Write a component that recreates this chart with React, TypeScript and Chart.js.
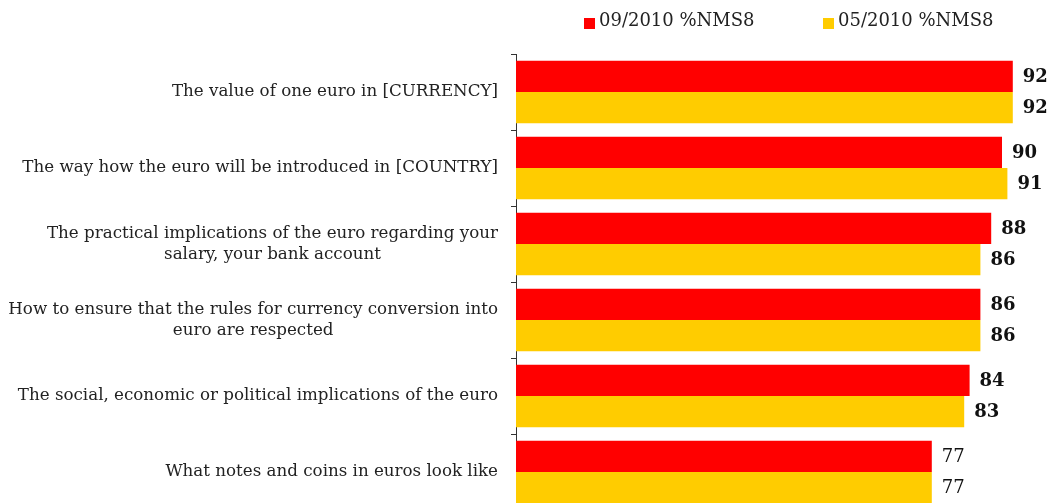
import React, { useEffect, useRef } from "react";
import { Chart, registerables } from "chart.js";

Chart.register(...registerables);

const categories: string[][] = [
  ["The value of one euro in [CURRENCY]"],
  ["The way how the euro will be introduced in [COUNTRY]"],
  ["The practical implications of the euro regarding your", "salary, your bank account"],
  ["How to ensure that the rules for currency conversion into", "euro are respected"],
  ["The social, economic or political implications of the euro"],
  ["What notes and coins in euros look like"],
];
const series1Label = "09/2010 %NMS8";
const series2Label = "05/2010 %NMS8";
const series1 = [92, 90, 88, 86, 84, 77];
const series2 = [92, 91, 86, 86, 83, 77];
const boldValue = [true, true, true, true, true, false];

const RED = "#FF0000";
const YELLOW = "#FFCC00";
const FONT = "'DejaVu Serif', Georgia, serif";

const labelPlugin = {
  id: "customLabels",
  afterDatasetsDraw(chart: any) {
    const ctx = chart.ctx as CanvasRenderingContext2D;
    const yScale = chart.scales.y;
    ctx.save();
    ctx.font = `16.7px ${FONT}`;
    ctx.fillStyle = "#222";
    ctx.textBaseline = "middle";
    ctx.textAlign = "center";
    const lineH = 21.5;
    categories.forEach((lines, i) => {
      const yc = yScale.getPixelForValue(i);
      const w = Math.max(...lines.map((l) => ctx.measureText(l).width));
      const right = chart.chartArea.left - 18;
      const cx = right - w / 2;
      lines.forEach((l, j) =>
        ctx.fillText(l, cx, yc + (j - (lines.length - 1) / 2) * lineH)
      );
    });
    chart.data.datasets.forEach((ds: any, di: number) => {
      const meta = chart.getDatasetMeta(di);
      meta.data.forEach((bar: any, i: number) => {
        ctx.font = `${boldValue[i] ? "bold " : ""}18px ${FONT}`;
        ctx.textAlign = "left";
        ctx.fillStyle = "#111";
        ctx.fillText(String(ds.data[i]), bar.x + 10, bar.y + 1);
      });
    });
    ctx.restore();
  },
};

export default function App() {
  const ref = useRef<HTMLCanvasElement>(null);
  useEffect(() => {
    if (!ref.current) return;
    const chart = new Chart(ref.current, {
      type: "bar",
      data: {
        labels: categories.map((c) => c.join(" ")),
        datasets: [
          { label: series1Label, data: series1, backgroundColor: RED, barPercentage: 1, categoryPercentage: 0.82 },
          { label: series2Label, data: series2, backgroundColor: YELLOW, barPercentage: 1, categoryPercentage: 0.82 },
        ],
      },
      options: {
        indexAxis: "y",
        responsive: false,
        animation: false,
        layout: { padding: { top: 54, left: 511, right: 0, bottom: 0 } },
        plugins: { legend: { display: false }, tooltip: { enabled: false } },
        scales: {
          x: { display: false, min: 0, max: 100 },
          y: {
            offset: true,
            grid: { display: true, drawOnChartArea: false, drawTicks: true, tickLength: 5, color: "#333", offset: true },
            border: { display: true, color: "#333", width: 1 },
            ticks: { display: false },
          },
        },
      },
      plugins: [labelPlugin],
    });
    return () => chart.destroy();
  }, []);

  const legendText: React.CSSProperties = {
    position: "absolute",
    top: 9,
    fontFamily: FONT,
    fontSize: 18,
    lineHeight: "22px",
    color: "#222",
    whiteSpace: "nowrap",
  };
  const box = (x: number, c: string): React.CSSProperties => ({
    position: "absolute",
    left: x,
    top: 18,
    width: 11,
    height: 11,
    background: c,
  });

  return (
    <div style={{ position: "fixed", left: 0, top: 0, width: 1048, height: 503, overflow: "hidden", background: "#fff" }}>
      <canvas ref={ref} width={1056} height={510} style={{ position: "absolute", left: 0, top: 0, width: 1056, height: 510 }} />
      <div style={box(584, RED)} />
      <div style={{ ...legendText, left: 599 }}>{series1Label}</div>
      <div style={box(823, YELLOW)} />
      <div style={{ ...legendText, left: 838 }}>{series2Label}</div>
    </div>
  );
}
